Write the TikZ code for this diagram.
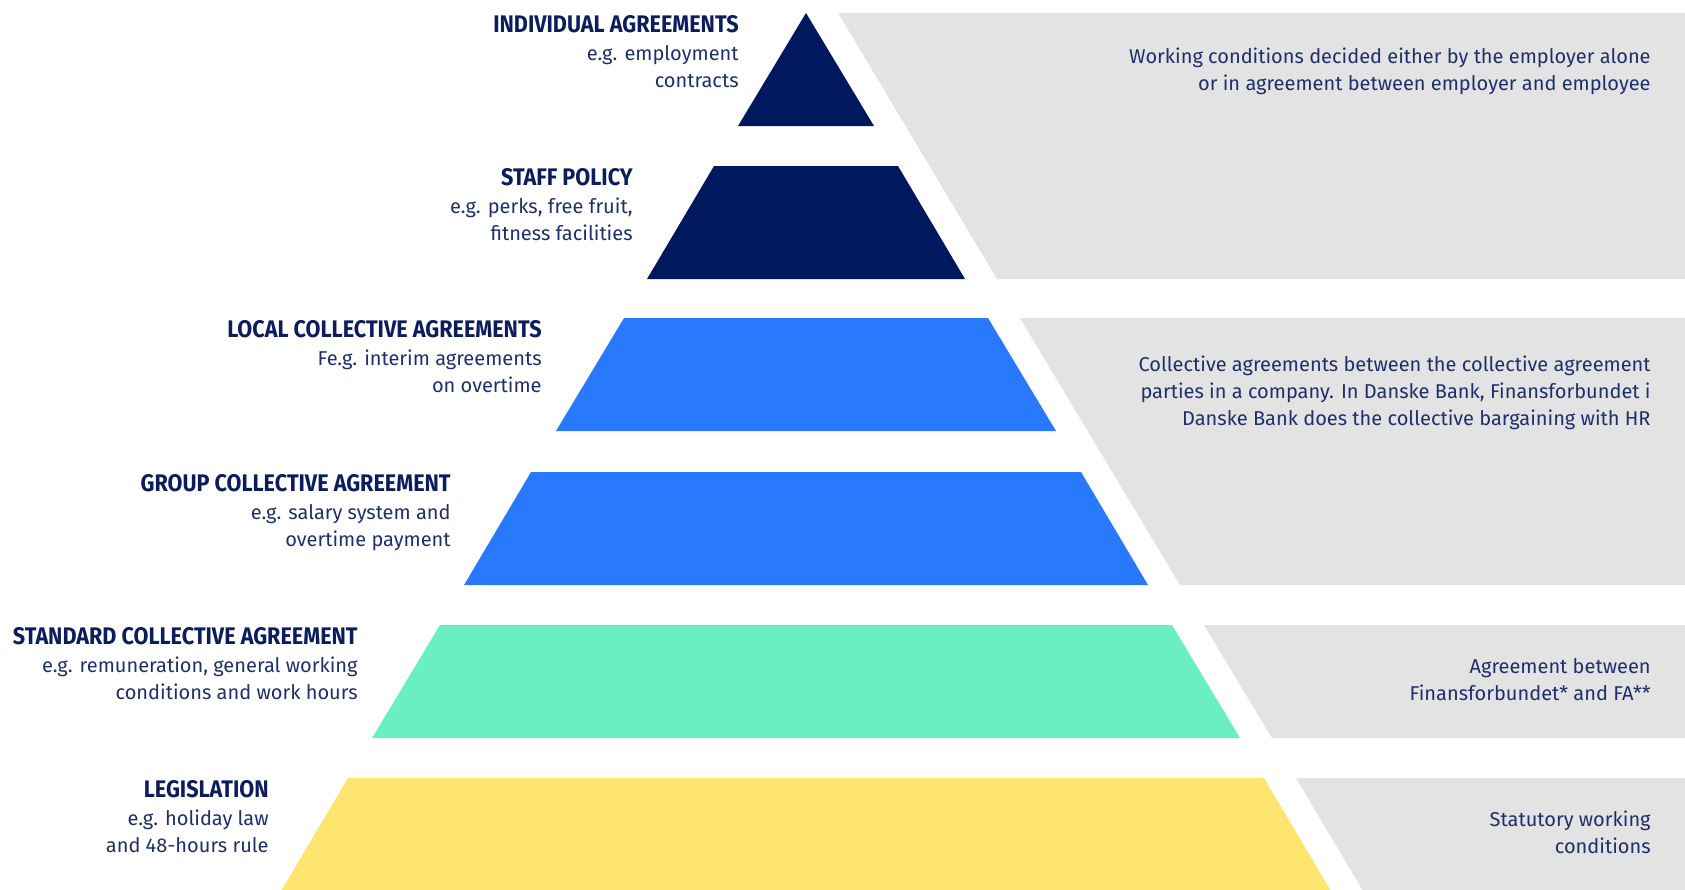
\documentclass[tikz,border=0pt]{standalone}
\usepackage{fontspec}
\setmainfont{Fira Sans}
\newfontfamily\headfont[FakeStretch=0.90]{Fira Sans}
\definecolor{navy}{HTML}{00195E}
\definecolor{navytext}{HTML}{0B1D5C}
\definecolor{desctext}{HTML}{1F2F6B}
\definecolor{brightblue}{HTML}{2979FF}
\definecolor{mint}{HTML}{6AF0C0}
\definecolor{sand}{HTML}{FFE570}
\definecolor{band}{HTML}{E3E3E3}
\newcommand{\heading}[1]{{\headfont\bfseries\fontsize{12}{13}\selectfont\color{navytext}#1}\\[0.5pt]}

\begin{document}
\begin{tikzpicture}[x=0.5pt,y=-0.5pt,
    label/.style={anchor=base east,inner sep=0pt,align=right,text=desctext,
      font=\fontsize{10}{13.5}\selectfont},
    note/.style={anchor=base east,inner sep=0pt,align=right,text=desctext,
      font=\fontsize{10}{13.5}\selectfont}]
    \useasboundingbox (0,0) rectangle (1685,889);
    %% grey bands behind the pyramid
    \fill[band] (838,13) -- (1685,13) -- (1685,279) -- (997,279) -- cycle;
    \fill[band] (1020,318) -- (1685,318) -- (1685,585) -- (1180,585) -- cycle;
    \fill[band] (1204,625) -- (1685,625) -- (1685,738) -- (1272,738) -- cycle;
    \fill[band] (1296,778) -- (1685,778) -- (1685,891) -- (1363,891) -- cycle;
    %% pyramid levels
    \fill[navy] (806,13) -- (874,126) -- (738,126) -- cycle;
    \fill[navy] (714,166) -- (898,166) -- (965,279) -- (647,279) -- cycle;
    \fill[brightblue] (624,318) -- (988,318) -- (1056,431) -- (556,431) -- cycle;
    \fill[brightblue] (531,472) -- (1081,472) -- (1148,585) -- (464,585) -- cycle;
    \fill[mint] (440,625) -- (1172,625) -- (1240,738) -- (372,738) -- cycle;
    \fill[sand] (348,778) -- (1264,778) -- (1331,891) -- (281,891) -- cycle;
    %% labels on the left (anchored at their last line)
    \node (individual) at (739,87) [label] {\heading{INDIVIDUAL AGREEMENTS}e.g. employment\\contracts};
    \node (staff) at (633,240) [label] {\heading{STAFF POLICY}e.g. perks, free fruit,\\fitness facilities};
    \node (local) at (542,392) [label] {\heading{LOCAL COLLECTIVE AGREEMENTS}Fe.g. interim agreements\\on overtime};
    \node (group) at (451,546) [label] {\heading{GROUP COLLECTIVE AGREEMENT}e.g. salary system and\\overtime payment};
    \node (standard) at (358,699) [label] {\heading{STANDARD COLLECTIVE AGREEMENT}e.g. remuneration, general working\\conditions and work hours};
    \node (legislation) at (269,852) [label] {\heading{LEGISLATION}e.g. holiday law\\and 48-hours rule};
    %% notes on the right
    \node (employer) at (1651,90) [note] {Working conditions decided either by the employer alone\\or in agreement between employer and employee};
    \node (parties) at (1651,425) [note] {Collective agreements between the collective agreement\\parties in a company. In Danske Bank, Finansforbundet i\\Danske Bank does the collective bargaining with HR};
    \node (between) at (1651,700) [note] {Agreement between\\Finansforbundet* and FA**};
    \node (statutory) at (1651,853) [note] {Statutory working\\conditions};
\end{tikzpicture}
\end{document}
